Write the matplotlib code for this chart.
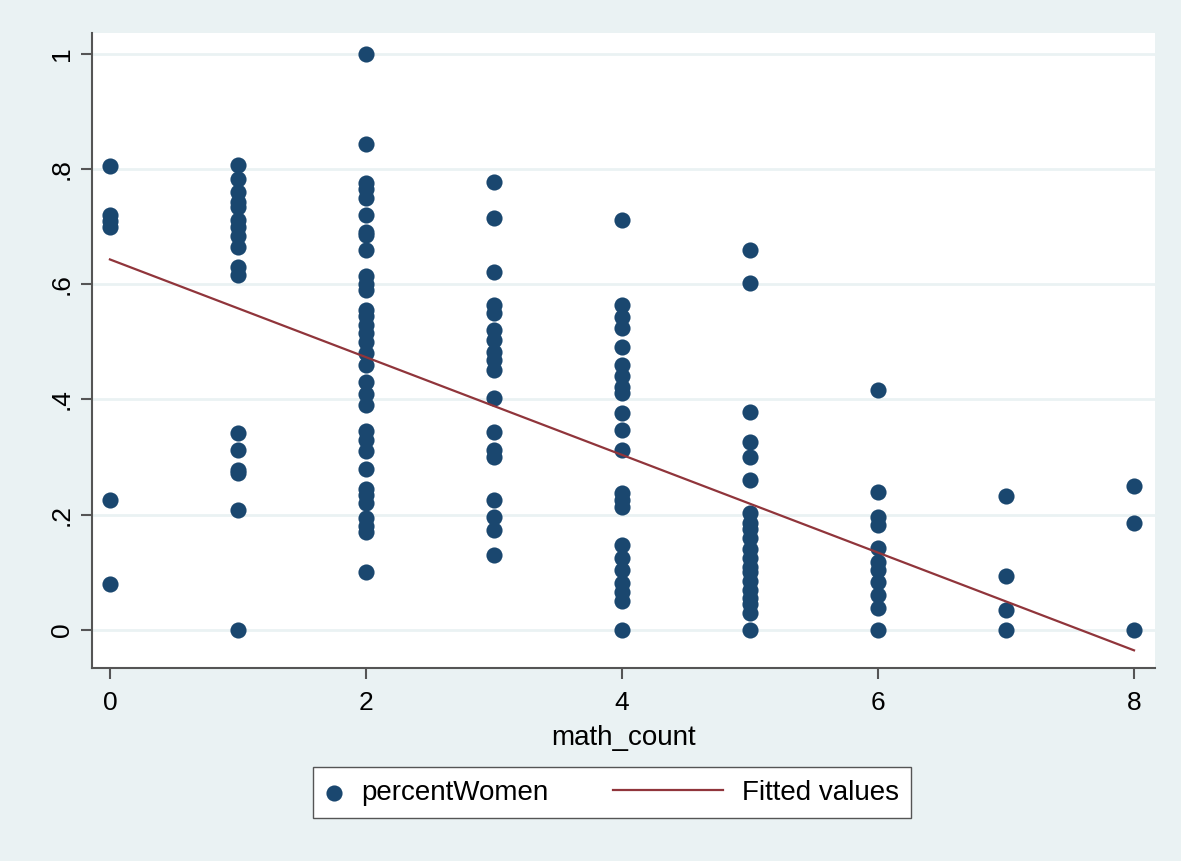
import numpy as np
import matplotlib.pyplot as plt
from matplotlib.legend_handler import HandlerPathCollection, HandlerLine2D

plt.rcParams['font.family'] = ['Liberation Sans', 'DejaVu Sans']

# percentWomen by math_count
y_0 = [0.805, 0.72, 0.71, 0.70, 0.225, 0.08]
y_1 = [0.807, 0.783, 0.76, 0.743, 0.734, 0.712, 0.70, 0.683, 0.665, 0.63, 0.616,
       0.342, 0.313, 0.278, 0.273, 0.208, 0.0]
y_2 = [1.0, 0.844, 0.775, 0.765, 0.75, 0.72, 0.69, 0.685, 0.66, 0.615, 0.60, 0.59,
       0.555, 0.545, 0.53, 0.515, 0.50, 0.48, 0.46, 0.43, 0.41, 0.39, 0.345, 0.33,
       0.31, 0.28, 0.245, 0.235, 0.22, 0.195, 0.18, 0.17, 0.10]
y_3 = [0.778, 0.715, 0.622, 0.564, 0.55, 0.521, 0.503, 0.483, 0.469, 0.451, 0.403,
       0.344, 0.313, 0.30, 0.226, 0.196, 0.174, 0.13]
y_4 = [0.712, 0.564, 0.543, 0.524, 0.491, 0.46, 0.44, 0.422, 0.411, 0.377, 0.347,
       0.313, 0.238, 0.225, 0.214, 0.148, 0.125, 0.104, 0.082, 0.065, 0.05, 0.0]
y_5 = [0.66, 0.602, 0.378, 0.326, 0.30, 0.26, 0.203, 0.186, 0.175, 0.16, 0.14,
       0.125, 0.11, 0.10, 0.085, 0.07, 0.055, 0.045, 0.03, 0.0]
y_6 = [0.417, 0.24, 0.196, 0.182, 0.142, 0.118, 0.104, 0.083, 0.061, 0.038, 0.0]
y_7 = [0.233, 0.094, 0.035, 0.0]
y_8 = [0.25, 0.186, 0.0]
columns = [y_0, y_1, y_2, y_3, y_4, y_5, y_6, y_7, y_8]

# fitted line
fit_intercept = 0.643
fit_slope = -0.0848

x_ticks = [0, 2, 4, 6, 8]
y_ticks = [0, 0.2, 0.4, 0.6, 0.8, 1.0]
y_ticklabels = ['0', '.2', '.4', '.6', '.8', '1']

navy = '#1a476f'
maroon = '#90353b'
bg = '#eaf2f3'
axcol = '#555555'


# stata style legend: marker at the left of its key, long line key
class MarkerLeft(HandlerPathCollection):
	def get_xdata(self, legend, xdescent, ydescent, width, height, fontsize):
		x = [-xdescent + 0.29 * fontsize]
		return x, x


class LongLine(HandlerLine2D):
	def get_xdata(self, legend, xdescent, ydescent, width, height, fontsize):
		x = np.array([-xdescent - 3.35 * fontsize, -xdescent + 0.61 * fontsize])
		return x, x


xs = []
ys = []
for i in range(len(columns)):
	xs += [i] * len(columns[i])
	ys += columns[i]

fig = plt.figure(figsize=(11.81, 8.61), dpi=100, facecolor=bg)
ax = fig.add_axes([0.0779, 0.2242, 0.9001, 0.7375])
ax.set_facecolor('white')

sc = ax.scatter(xs, ys, s=135, color=navy, linewidths=0, zorder=3, label='percentWomen')
fx = np.array([0, 8])
ln, = ax.plot(fx, fit_intercept + fit_slope * fx, color=maroon, lw=1.6, zorder=4, label='Fitted values')

ax.set_xlim(-0.14, 8.164)
ax.set_ylim(-0.066, 1.036)
ax.set_xticks(x_ticks)
ax.set_yticks(y_ticks)
ax.set_yticklabels(y_ticklabels, rotation=90, va='center')
ax.grid(axis='y', color=bg, lw=2, zorder=0)
ax.set_axisbelow(True)
for s in ['top', 'right']:
	ax.spines[s].set_visible(False)
for s in ['left', 'bottom']:
	ax.spines[s].set_color(axcol)
	ax.spines[s].set_linewidth(1.5)
ax.tick_params(colors=axcol, labelcolor='black', labelsize=19, length=8, width=1.5)
ax.tick_params(axis='x', pad=8.5)
ax.tick_params(axis='y', pad=5)
ax.set_xlabel('math_count', fontsize=20, labelpad=7)

fig.legend([sc, ln], ['percentWomen', 'Fitted values'], loc='center left',
	bbox_to_anchor=(0.265, 0.079), borderaxespad=0, ncol=2, fontsize=20,
	frameon=True, fancybox=False, edgecolor=axcol, framealpha=1,
	handlelength=0.8, handletextpad=0.5, columnspacing=5.65, borderpad=0.45,
	scatterpoints=1,
	handler_map={sc: MarkerLeft(), ln: LongLine()})

fig.savefig('out.png', dpi=100, facecolor=bg)
